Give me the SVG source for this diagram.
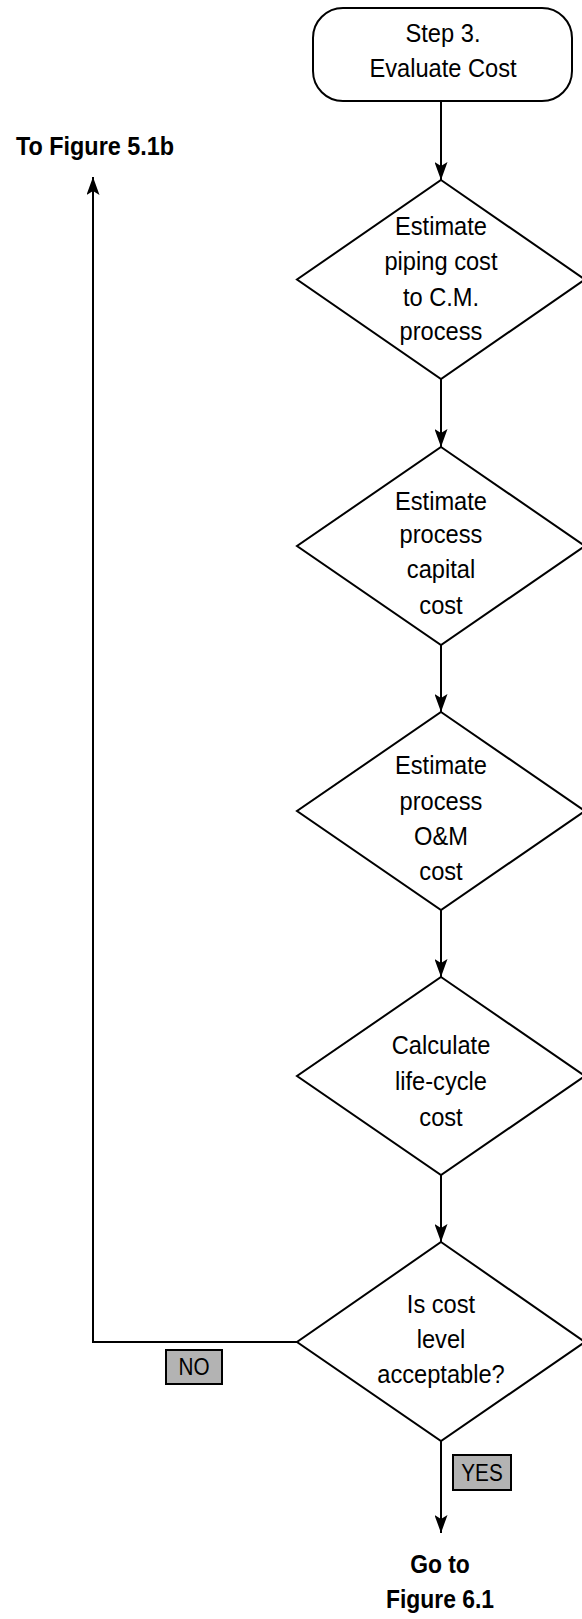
<svg xmlns="http://www.w3.org/2000/svg" width="582" height="1619" viewBox="0 0 582 1619">
<style>
.shape{fill:#fff;stroke:#000;stroke-width:2}
.t{font-family:"Liberation Sans",Arial,sans-serif;font-size:26px;fill:#000;text-anchor:middle}
.b{font-family:"Liberation Sans",Arial,sans-serif;font-size:26px;font-weight:bold;fill:#000;text-anchor:middle}
.lab{fill:#b3b3b3;stroke:#000;stroke-width:2}
.lt{font-family:"Liberation Sans",Arial,sans-serif;font-size:23px;fill:#000;text-anchor:middle}
.c{fill:none;stroke:#000;stroke-width:2}
</style>
<defs>
<marker id="arr" markerUnits="userSpaceOnUse" markerWidth="18" markerHeight="13" refX="18" refY="6.5" orient="auto">
<path d="M0,0 L18,6.5 L0,13 L4,6.5 z" fill="#000"/>
</marker>
</defs>
<rect width="582" height="1619" fill="#fff"/>
<g id="connectors">
<line class="c" x1="441" y1="101" x2="441" y2="180" marker-end="url(#arr)"/>
<line class="c" x1="441" y1="379" x2="441" y2="447" marker-end="url(#arr)"/>
<line class="c" x1="441" y1="645" x2="441" y2="712" marker-end="url(#arr)"/>
<line class="c" x1="441" y1="910" x2="441" y2="977" marker-end="url(#arr)"/>
<line class="c" x1="441" y1="1175" x2="441" y2="1242" marker-end="url(#arr)"/>
<polyline class="c" points="297,1342 93,1342 93,177" marker-end="url(#arr)"/>
<line class="c" x1="441" y1="1441" x2="441" y2="1533" marker-end="url(#arr)"/>
</g>
<g id="start">
<rect class="shape" x="313" y="8" width="259" height="93" rx="30" ry="30"/>
<g transform="matrix(0.91 0 0 1 39.87 0)">
<text class="t" x="443" y="42">Step 3.</text>
<text class="t" x="443" y="77">Evaluate Cost</text>
</g>
</g>
<g id="d1">
<polygon class="shape" points="441,180 585,279.5 441,379 297,279.5"/>
<g transform="matrix(0.91 0 0 1 39.69 0)">
<text class="t" x="441" y="235">Estimate</text>
<text class="t" x="441" y="270">piping cost</text>
<text class="t" x="441" y="306">to C.M.</text>
<text class="t" x="441" y="340">process</text>
</g>
</g>
<g id="d2">
<polygon class="shape" points="441,447 585,546 441,645 297,546"/>
<g transform="matrix(0.91 0 0 1 39.69 0)">
<text class="t" x="441" y="510">Estimate</text>
<text class="t" x="441" y="543">process</text>
<text class="t" x="441" y="578">capital</text>
<text class="t" x="441" y="614">cost</text>
</g>
</g>
<g id="d3">
<polygon class="shape" points="441,712 585,811 441,910 297,811"/>
<g transform="matrix(0.91 0 0 1 39.69 0)">
<text class="t" x="441" y="774">Estimate</text>
<text class="t" x="441" y="810">process</text>
<text class="t" x="441" y="845">O&amp;M</text>
<text class="t" x="441" y="880">cost</text>
</g>
</g>
<g id="d4">
<polygon class="shape" points="441,977 585,1076 441,1175 297,1076"/>
<g transform="matrix(0.91 0 0 1 39.69 0)">
<text class="t" x="441" y="1054">Calculate</text>
<text class="t" x="441" y="1090">life-cycle</text>
<text class="t" x="441" y="1126">cost</text>
</g>
</g>
<g id="d5">
<polygon class="shape" points="441,1242 585,1342 441,1441 297,1342"/>
<g transform="matrix(0.91 0 0 1 39.69 0)">
<text class="t" x="441" y="1313">Is cost</text>
<text class="t" x="441" y="1348">level</text>
<text class="t" x="441" y="1383">acceptable?</text>
</g>
</g>
<g id="no">
<rect class="lab" x="166" y="1350" width="56" height="34"/>
<g transform="matrix(0.9 0 0 1 19.4 0)">
<text class="lt" x="194" y="1375">NO</text>
</g>
</g>
<g id="yes">
<rect class="lab" x="453" y="1455" width="58" height="35"/>
<g transform="matrix(0.9 0 0 1 48.2 0)">
<text class="lt" x="482" y="1481">YES</text>
</g>
</g>
<g id="to51b">
<g transform="matrix(0.9 0 0 1 9.5 0)">
<text class="b" x="95" y="155">To Figure 5.1b</text>
</g>
</g>
<g id="goto61">
<g transform="matrix(0.88 0 0 1 52.8 0)">
<text class="b" x="440" y="1573">Go to</text>
<text class="b" x="440" y="1608">Figure 6.1</text>
</g>
</g>
</svg>
